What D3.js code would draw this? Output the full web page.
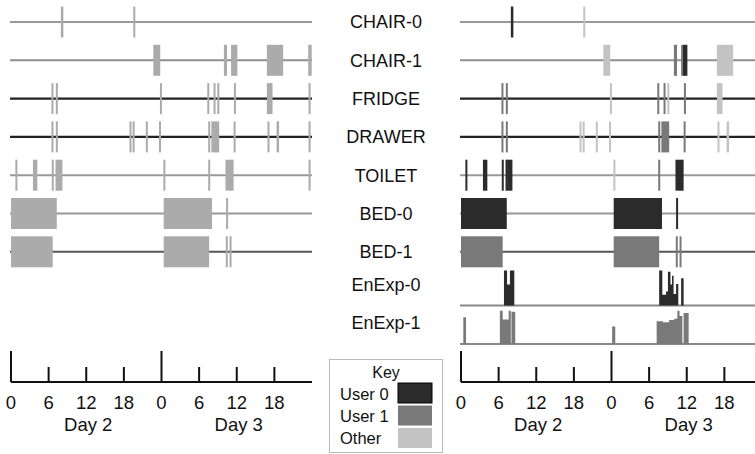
<!DOCTYPE html>
<html>
<head>
<meta charset="utf-8">
<script src="https://cdn.jsdelivr.net/npm/d3@7"></script>
<style>
  html, body { margin: 0; padding: 0; background: #fff; }
  svg { display: block; font-family: "Liberation Sans", Arial, sans-serif; }
</style>
</head>
<body>
<svg id="chart" width="755" height="454"></svg>
<script>
// Sensor rows, top to bottom
const sensorRows = ["CHAIR-0", "CHAIR-1", "FRIDGE", "DRAWER", "TOILET", "BED-0", "BED-1"];
const energyRows = ["EnExp-0", "EnExp-1"];
const allRows = sensorRows.concat(energyRows);

// Baseline shade for each sensor row
const rowLine = {
  "CHAIR-0": "#9a9a9a", "CHAIR-1": "#8e8e8e", "FRIDGE": "#222", "DRAWER": "#222",
  "TOILET": "#999", "BED-0": "#999", "BED-1": "#555"
};

// Activation intervals in hours since the start of Day 2: [start, end, who]
const chair0 = [[7.95, 8.35, "u0"], [19.5, 19.8, "o"]];
const chair1 = [[22.7, 23.8, "o"], [33.95, 34.45, "u1"], [35.1, 35.4, "u1"], [35.4, 36.1, "u0"],
                [40.8, 43.4, "o"], [47.4, 47.95, "o"]];
const fridge = [[6.45, 6.75, "u1"], [7.15, 7.45, "u1"], [23.75, 23.95, "o"], [31.3, 31.6, "u1"],
                [32.3, 32.55, "u1"], [32.9, 33.15, "o"], [35.55, 35.8, "u1"], [40.8, 41.7, "o"],
                [47.45, 47.7, "o"]];
const drawer = [[6.45, 6.75, "u1"], [7.15, 7.45, "u1"], [18.9, 19.15, "o"], [19.4, 19.65, "o"],
                [21.5, 21.7, "o"], [23.6, 23.8, "o"], [31.45, 31.7, "u1"], [31.95, 33.2, "u1"],
                [35.5, 35.7, "u1"], [40.9, 41.1, "o"], [42.35, 42.75, "o"], [47.45, 47.7, "o"]];
const toilet = [[0.7, 0.95, "u0"], [3.5, 4.2, "u0"], [6.5, 6.7, "u0"], [7.1, 7.3, "u0"],
                [7.35, 8.2, "u0"], [24.3, 24.5, "o"], [31.45, 31.7, "u1"], [34.2, 35.5, "u0"],
                [47.45, 47.7, "o"]];
const bed0 = [[0, 7.3, "u0"], [24.35, 32.05, "u0"], [34.3, 34.5, "u0"]];
const bed1 = [[0, 6.65, "u1"], [24.35, 31.6, "u1"], [34.25, 34.5, "u1"], [34.85, 35.1, "u1"]];
const sensorEvents = {
  "CHAIR-0": chair0, "CHAIR-1": chair1, "FRIDGE": fridge, "DRAWER": drawer,
  "TOILET": toilet, "BED-0": bed0, "BED-1": bed1
};

// Energy expenditure per user (relative level, step series: [hour, level])
const enExp0 = [[0, 0], [6.85, 1.0], [7.35, 0.6], [7.8, 1.0], [8.5, 0],
                [31.6, 1.0], [32.1, 0.31], [32.7, 0.4], [33.0, 0.97], [33.4, 0.6], [33.65, 0.85],
                [33.9, 0.33], [34.3, 0.62], [34.65, 0], [35.1, 0.78], [35.5, 0], [48, 0]];
const enExp1 = [[0, 0], [0.37, 0.76], [0.8, 0], [6.2, 0.95], [6.65, 0.7], [7.6, 0.95], [7.95, 0],
                [8.05, 0.92], [8.65, 0], [24.1, 0.5], [24.6, 0], [31.2, 0.65], [32.2, 0.62],
                [33.2, 0.68], [34.0, 0.72], [34.5, 0.95], [34.85, 0.8], [35.3, 0], [35.5, 0.88],
                [36.3, 0], [48, 0]];

// Axis ticks
const tickHours = [0, 6, 12, 18, 24, 30, 36, 42];
const tickLabels = ["0", "6", "12", "18", "0", "6", "12", "18"];
const dayLabels = [["Day 2", 12], ["Day 3", 36]];

// Key
const keyItems = [["User 0", "u0"], ["User 1", "u1"], ["Other", "o"]];
const userColor = { u0: "#2b2b2b", u1: "#797979", o: "#c3c3c3" };
const plainColor = "#ababab";

const svg = d3.select("#chart");
const y = d3.scalePoint().domain(allRows).range([22, 328.4]);
const half = 15.5;
const energyHeight = 35;

function drawPanel(x0, colored) {
  const x = d3.scaleLinear().domain([0, 48]).range([x0, x0 + 301]);
  const g = svg.append("g");

  // baselines
  g.selectAll("line.base").data(sensorRows).join("line")
    .attr("x1", x(0) - 1).attr("x2", x(48))
    .attr("y1", d => y(d)).attr("y2", d => y(d))
    .attr("stroke", d => rowLine[d]).attr("stroke-width", d => (rowLine[d] === "#222" ? 2.4 : 2));

  // activation bars
  sensorRows.forEach(r => {
    g.selectAll(null).data(sensorEvents[r]).join("rect")
      .attr("x", d => x(d[0]))
      .attr("width", d => Math.max(2, x(d[1]) - x(d[0])))
      .attr("y", y(r) - half).attr("height", half * 2)
      .attr("fill", d => colored ? userColor[d[2]] : plainColor);
  });

  // energy expenditure (only in coloured panel)
  if (colored) {
    [[energyRows[0], enExp0, "u0"], [energyRows[1], enExp1, "u1"]].forEach(([r, series, who]) => {
      const base = y(r) + half;
      g.append("line")
        .attr("x1", x(0) - 1).attr("x2", x(48)).attr("y1", base).attr("y2", base)
        .attr("stroke", "#888").attr("stroke-width", 2);
      g.append("path").datum(series)
        .attr("fill", userColor[who])
        .attr("d", d3.area().curve(d3.curveStepAfter)
          .x(d => x(d[0])).y0(base).y1(d => base - d[1] * energyHeight));
    });
  }

  // time axis
  const axisY = 382;
  g.append("line").attr("x1", x(0)).attr("x2", x(48)).attr("y1", axisY).attr("y2", axisY)
    .attr("stroke", "#111").attr("stroke-width", 2);
  g.selectAll("line.tick").data(tickHours).join("line")
    .attr("x1", d => x(d)).attr("x2", d => x(d))
    .attr("y1", axisY).attr("y2", d => axisY - (d % 24 === 0 ? 31 : 15))
    .attr("stroke", "#111").attr("stroke-width", 2);
  g.selectAll("text.tl").data(tickHours).join("text")
    .attr("x", d => x(d)).attr("y", 409)
    .attr("text-anchor", "middle").attr("font-size", 18.5).attr("fill", "#111")
    .text((d, i) => tickLabels[i]);
  g.selectAll("text.day").data(dayLabels).join("text")
    .attr("x", d => x(d[1]) + 2).attr("y", 431)
    .attr("text-anchor", "middle").attr("font-size", 18.5).attr("fill", "#111")
    .text(d => d[0]);
}

drawPanel(11, false);
drawPanel(461, true);

// row labels
svg.selectAll("text.row").data(allRows).join("text")
  .attr("x", 386)
  .attr("y", d => y(d) + (energyRows.includes(d) ? -6 : 0))
  .attr("dy", "0.36em")
  .attr("text-anchor", "middle").attr("font-size", 18).attr("fill", "#111")
  .text(d => d);

// key box
const key = svg.append("g");
key.append("rect").attr("x", 329.5).attr("y", 359.5).attr("width", 113).attr("height", 93)
  .attr("fill", "#fff").attr("stroke", "#bbb").attr("stroke-width", 1);
key.append("text").attr("x", 386).attr("y", 378).attr("text-anchor", "middle")
  .attr("font-size", 16).attr("fill", "#111").text("Key");
key.selectAll("rect.sw").data(keyItems).join("rect")
  .attr("x", 398).attr("y", (d, i) => 383 + i * 22.5).attr("width", 34).attr("height", 20)
  .attr("fill", d => userColor[d[1]])
  .attr("stroke", d => d[1] === "u0" ? "#000" : "none").attr("stroke-width", 1);
key.selectAll("text.kl").data(keyItems).join("text")
  .attr("x", 340).attr("y", (d, i) => 399.5 + i * 22)
  .attr("font-size", 16.5).attr("fill", "#111")
  .text(d => d[0]);
</script>
</body>
</html>
